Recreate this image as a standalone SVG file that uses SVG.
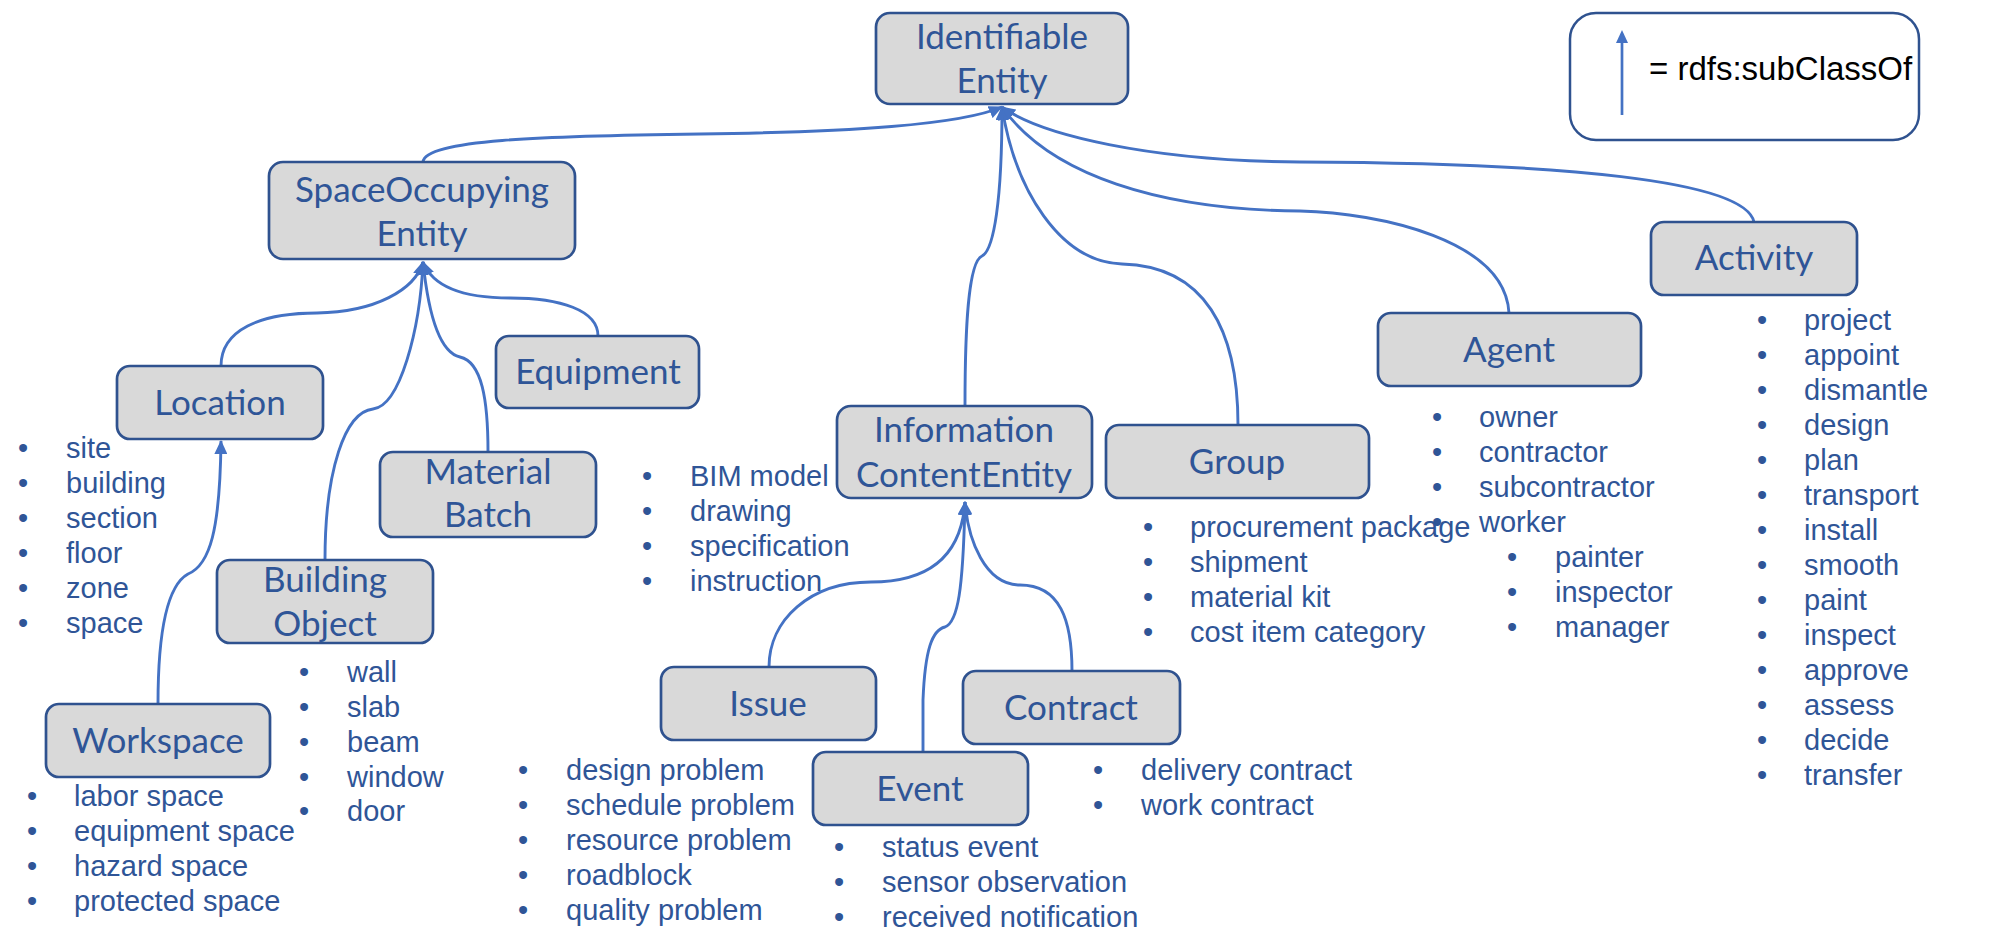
<svg xmlns="http://www.w3.org/2000/svg" width="1993" height="952" viewBox="0 0 1993 952">
<defs>
<style>
.node rect{fill:#d9d9d9;stroke:#2f528f;stroke-width:2.7}
.lbl{font-family:Lato,"Open Sans",sans-serif;font-size:35px;fill:#2f5597;text-anchor:middle}
.list{font-family:"Liberation Sans",Arial,sans-serif;font-size:29px;fill:#2f5597}
#connectors path{fill:none;stroke:#4472c4;stroke-width:2.9;marker-end:url(#arr)}
</style>
<marker id="arr" markerUnits="userSpaceOnUse" markerWidth="14" markerHeight="13" viewBox="0 0 14 13" refX="13" refY="6.5" orient="auto">
<path d="M0,0 L14,6.5 L0,13 z" fill="#4472c4"/>
</marker>
</defs>
<rect width="1993" height="952" fill="#ffffff"/>

<g id="connectors">
<path d="M423,162 C425,140 540,136 700,134 C850,132 960,125 1002,107"/>
<path d="M965,406 C965,330 968,262 982,256 C994,250 1002,200 1002,107"/>
<path d="M1238,425 C1238,330 1205,266 1122,264 C1060,262 1015,190 1002,107"/>
<path d="M1509,313 C1505,240 1380,213 1300,211 C1160,210 1050,175 1002,107"/>
<path d="M1754,222 C1745,180 1560,163 1300,162 C1150,161 1040,135 1002,107"/>
<path d="M221,366 C221,330 260,313 317,313 C375,312 415,290 423,262"/>
<path d="M325,560 C325,470 345,412 373,409 C400,406 420,330 423,262"/>
<path d="M488,452 C488,400 482,362 460,357 C438,352 428,310 423,262"/>
<path d="M598,336 C598,310 560,298 510,298 C460,298 432,285 423,262"/>
<path d="M769,667 C769,620 810,582 871,582 C940,582 962,545 965,502"/>
<path d="M923,752 L923,700 C925,650 932,630 945,627 C958,622 963,590 965,502"/>
<path d="M1072,671 C1072,620 1060,585 1020,585 C985,585 968,540 965,502"/>
<path d="M158,704 C158,630 168,585 188,574 C210,565 220,530 221,441"/>
</g>

<g id="legend">
<rect x="1570" y="13" width="349" height="127" rx="26" fill="#ffffff" stroke="#2f528f" stroke-width="2.5"/>
<line x1="1622" y1="115" x2="1622" y2="42" stroke="#4472c4" stroke-width="2.7"/>
<path d="M1616,43 L1622,30 L1628,43 z" fill="#4472c4"/>
<text x="1649" y="80" font-family="Liberation Sans, Arial, sans-serif" font-size="33" fill="#000000">= rdfs:subClassOf</text>
</g>

<g id="identifiable-entity" class="node">
<rect x="876" y="13" width="252" height="91" rx="14"/>
<text class="lbl" x="1002" y="49">Identifiable</text>
<text class="lbl" x="1002" y="93">Entity</text>
</g>

<g id="space-occupying-entity" class="node">
<rect x="269" y="162" width="306" height="97" rx="14"/>
<text class="lbl" x="422" y="202">SpaceOccupying</text>
<text class="lbl" x="422" y="246">Entity</text>
</g>

<g id="location" class="node">
<rect x="117" y="366" width="206" height="73" rx="13"/>
<text class="lbl" x="220" y="415">Location</text>
<text class="list"><tspan x="18" y="458">•</tspan><tspan x="66">site</tspan></text>
<text class="list"><tspan x="18" y="493">•</tspan><tspan x="66">building</tspan></text>
<text class="list"><tspan x="18" y="528">•</tspan><tspan x="66">section</tspan></text>
<text class="list"><tspan x="18" y="563">•</tspan><tspan x="66">floor</tspan></text>
<text class="list"><tspan x="18" y="598">•</tspan><tspan x="66">zone</tspan></text>
<text class="list"><tspan x="18" y="633">•</tspan><tspan x="66">space</tspan></text>
</g>

<g id="equipment" class="node">
<rect x="496" y="336" width="203" height="72" rx="13"/>
<text class="lbl" x="598" y="384">Equipment</text>
</g>

<g id="material-batch" class="node">
<rect x="380" y="452" width="216" height="85" rx="13"/>
<text class="lbl" x="488" y="484">Material</text>
<text class="lbl" x="488" y="527">Batch</text>
</g>

<g id="building-object" class="node">
<rect x="217" y="560" width="216" height="83" rx="13"/>
<text class="lbl" x="325" y="592">Building</text>
<text class="lbl" x="325" y="636">Object</text>
<text class="list"><tspan x="299" y="682">•</tspan><tspan x="347">wall</tspan></text>
<text class="list"><tspan x="299" y="717">•</tspan><tspan x="347">slab</tspan></text>
<text class="list"><tspan x="299" y="752">•</tspan><tspan x="347">beam</tspan></text>
<text class="list"><tspan x="299" y="787">•</tspan><tspan x="347">window</tspan></text>
<text class="list"><tspan x="299" y="821">•</tspan><tspan x="347">door</tspan></text>
</g>

<g id="workspace" class="node">
<rect x="46" y="704" width="224" height="73" rx="13"/>
<text class="lbl" x="158" y="753">Workspace</text>
<text class="list"><tspan x="27" y="806">•</tspan><tspan x="74">labor space</tspan></text>
<text class="list"><tspan x="27" y="841">•</tspan><tspan x="74">equipment space</tspan></text>
<text class="list"><tspan x="27" y="876">•</tspan><tspan x="74">hazard space</tspan></text>
<text class="list"><tspan x="27" y="911">•</tspan><tspan x="74">protected space</tspan></text>
</g>

<g id="information-content-entity" class="node">
<rect x="837" y="406" width="255" height="92" rx="14"/>
<text class="lbl" x="964" y="442">Information</text>
<text class="lbl" x="964" y="487">ContentEntity</text>
<text class="list"><tspan x="642" y="486">•</tspan><tspan x="690">BIM model</tspan></text>
<text class="list"><tspan x="642" y="521">•</tspan><tspan x="690">drawing</tspan></text>
<text class="list"><tspan x="642" y="556">•</tspan><tspan x="690">specification</tspan></text>
<text class="list"><tspan x="642" y="591">•</tspan><tspan x="690">instruction</tspan></text>
</g>

<g id="issue" class="node">
<rect x="661" y="667" width="215" height="73" rx="13"/>
<text class="lbl" x="768" y="716">Issue</text>
<text class="list"><tspan x="518" y="780">•</tspan><tspan x="566">design problem</tspan></text>
<text class="list"><tspan x="518" y="815">•</tspan><tspan x="566">schedule problem</tspan></text>
<text class="list"><tspan x="518" y="850">•</tspan><tspan x="566">resource problem</tspan></text>
<text class="list"><tspan x="518" y="885">•</tspan><tspan x="566">roadblock</tspan></text>
<text class="list"><tspan x="518" y="920">•</tspan><tspan x="566">quality problem</tspan></text>
</g>

<g id="event" class="node">
<rect x="813" y="752" width="215" height="73" rx="13"/>
<text class="lbl" x="920" y="801">Event</text>
<text class="list"><tspan x="834" y="857">•</tspan><tspan x="882">status event</tspan></text>
<text class="list"><tspan x="834" y="892">•</tspan><tspan x="882">sensor observation</tspan></text>
<text class="list"><tspan x="834" y="927">•</tspan><tspan x="882">received notification</tspan></text>
</g>

<g id="contract" class="node">
<rect x="963" y="671" width="217" height="73" rx="13"/>
<text class="lbl" x="1071" y="720">Contract</text>
<text class="list"><tspan x="1093" y="780">•</tspan><tspan x="1141">delivery contract</tspan></text>
<text class="list"><tspan x="1093" y="815">•</tspan><tspan x="1141">work contract</tspan></text>
</g>

<g id="group" class="node">
<rect x="1106" y="425" width="263" height="73" rx="13"/>
<text class="lbl" x="1237" y="474">Group</text>
<text class="list"><tspan x="1143" y="537">•</tspan><tspan x="1190">procurement package</tspan></text>
<text class="list"><tspan x="1143" y="572">•</tspan><tspan x="1190">shipment</tspan></text>
<text class="list"><tspan x="1143" y="607">•</tspan><tspan x="1190">material kit</tspan></text>
<text class="list"><tspan x="1143" y="642">•</tspan><tspan x="1190">cost item category</tspan></text>
</g>

<g id="agent" class="node">
<rect x="1378" y="313" width="263" height="73" rx="13"/>
<text class="lbl" x="1509" y="362">Agent</text>
<text class="list"><tspan x="1432" y="427">•</tspan><tspan x="1479">owner</tspan></text>
<text class="list"><tspan x="1432" y="462">•</tspan><tspan x="1479">contractor</tspan></text>
<text class="list"><tspan x="1432" y="497">•</tspan><tspan x="1479">subcontractor</tspan></text>
<text class="list"><tspan x="1432" y="532">•</tspan><tspan x="1479">worker</tspan></text>
<text class="list"><tspan x="1507" y="567">•</tspan><tspan x="1555">painter</tspan></text>
<text class="list"><tspan x="1507" y="602">•</tspan><tspan x="1555">inspector</tspan></text>
<text class="list"><tspan x="1507" y="637">•</tspan><tspan x="1555">manager</tspan></text>
</g>

<g id="activity" class="node">
<rect x="1651" y="222" width="206" height="73" rx="13"/>
<text class="lbl" x="1754" y="270">Activity</text>
<text class="list"><tspan x="1757" y="330">•</tspan><tspan x="1804">project</tspan></text>
<text class="list"><tspan x="1757" y="365">•</tspan><tspan x="1804">appoint</tspan></text>
<text class="list"><tspan x="1757" y="400">•</tspan><tspan x="1804">dismantle</tspan></text>
<text class="list"><tspan x="1757" y="435">•</tspan><tspan x="1804">design</tspan></text>
<text class="list"><tspan x="1757" y="470">•</tspan><tspan x="1804">plan</tspan></text>
<text class="list"><tspan x="1757" y="505">•</tspan><tspan x="1804">transport</tspan></text>
<text class="list"><tspan x="1757" y="540">•</tspan><tspan x="1804">install</tspan></text>
<text class="list"><tspan x="1757" y="575">•</tspan><tspan x="1804">smooth</tspan></text>
<text class="list"><tspan x="1757" y="610">•</tspan><tspan x="1804">paint</tspan></text>
<text class="list"><tspan x="1757" y="645">•</tspan><tspan x="1804">inspect</tspan></text>
<text class="list"><tspan x="1757" y="680">•</tspan><tspan x="1804">approve</tspan></text>
<text class="list"><tspan x="1757" y="715">•</tspan><tspan x="1804">assess</tspan></text>
<text class="list"><tspan x="1757" y="750">•</tspan><tspan x="1804">decide</tspan></text>
<text class="list"><tspan x="1757" y="785">•</tspan><tspan x="1804">transfer</tspan></text>
</g>
</svg>
